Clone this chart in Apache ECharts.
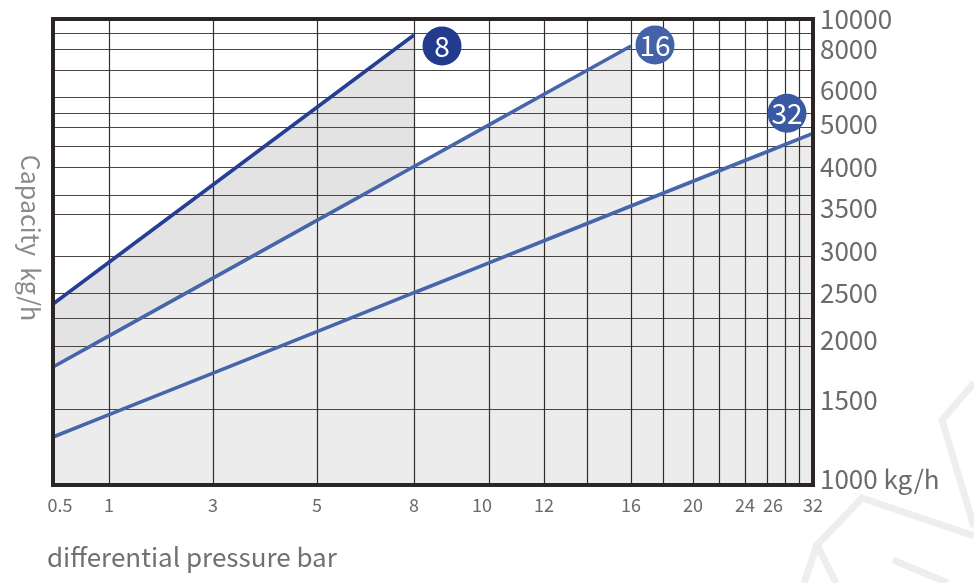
<!DOCTYPE html>
<html>
<head>
<meta charset="utf-8">
<script src="https://cdn.jsdelivr.net/npm/echarts@6/dist/echarts.min.js"></script>
<style>
html,body{margin:0;padding:0;background:#fff;}
#chart{width:974px;height:583px;}
</style>
</head>
<body>
<div id="chart"></div>
<script>
// ---- data ----
const pressureTicks = [0.5, 1, 3, 5, 8, 10, 12, 16, 20, 24, 26, 32];
const capacityTicks = [1000, 1500, 2000, 2500, 3000, 3500, 4000, 5000, 6000, 8000, 10000];
const pressureGrid = [0.5, 1, 3, 5, 8, 10, 12, 14, 16, 18, 20, 22, 24, 26, 28, 30, 32];
const capacityGrid = [1000, 1500, 2000, 2250, 2500, 3000, 3500, 3750, 4000, 4500, 5000, 5500, 6000, 7000, 8000, 9000, 10000];

const seriesNames = ['8', '16', '32'];
const pressure8 = [0.5, 1, 3, 5, 8];
const capacity8 = [2390, 2915, 3841, 5678, 8875];
const pressure16 = [0.5, 1, 3, 5, 8, 10, 12, 16];
const capacity16 = [1833, 2090, 2701, 3424, 4012, 5075, 6100, 8188];
const pressure32 = [0.5, 1, 3, 5, 8, 10, 12, 16, 20, 24, 26, 32];
const capacity32 = [1316, 1463, 1785, 2129, 2504, 2908, 3181, 3605, 3873, 4155, 4364, 4834];

// ---- the chart's irregular (hand-drawn) axis scales: gridline value -> axis position ----
const xScalePos = [0, 56, 160, 264, 361, 436, 491, 534, 578, 610, 640, 666, 692, 714, 732, 746, 760];
const yScalePos = [0, 76, 139, 167, 192, 229, 271, 290, 318, 339, 358, 372, 388, 415, 436, 452, 466];

function interp(vals, pos, v) {
  for (let i = 0; i < vals.length - 1; i++) {
    if (v <= vals[i + 1] || i === vals.length - 2) {
      return pos[i] + (v - vals[i]) / (vals[i + 1] - vals[i]) * (pos[i + 1] - pos[i]);
    }
  }
}
const xPos = v => interp(pressureGrid, xScalePos, v);
const yPos = v => interp(capacityGrid, yScalePos, v);
const toPts = (xs, ys) => xs.map((x, i) => [xPos(x), yPos(ys[i])]);

const xLabelPos = pressureTicks.map(xPos);
const yLabelPos = capacityTicks.map(yPos);
function findLabel(posArr, labels, v) {
  let best = 0, d = Infinity;
  posArr.forEach((p, i) => { const dd = Math.abs(p - v); if (dd < d) { d = dd; best = i; } });
  return labels[best];
}

const pts = [toPts(pressure8, capacity8), toPts(pressure16, capacity16), toPts(pressure32, capacity32)];
const lineColors = ['#263f95', '#4765ab', '#4765ab'];
const badgeColors = ['#223b8e', '#4462aa', '#3a59a4'];
const areaColors = ['#e3e3e3', '#ececec', '#ececec'];
const badgeOffsets = [[28, 11], [24, -1], [-26, -20]];

const FONT = '"Noto Sans CJK SC", "Noto Sans", sans-serif';

const series = [];
pts.forEach((p, i) => {
  series.push({
    type: 'line', name: seriesNames[i] + '-area', data: p, z: 1,
    symbol: 'none', silent: true,
    lineStyle: { width: 0 },
    areaStyle: { color: areaColors[i], opacity: 1 }
  });
});
pts.forEach((p, i) => {
  const last = p[p.length - 1];
  series.push({
    type: 'line', name: seriesNames[i], data: p, z: 3,
    symbol: 'none', silent: true,
    lineStyle: { width: 3.6, color: lineColors[i] },
    markPoint: {
      silent: true,
      symbol: 'circle', symbolSize: 39, symbolOffset: badgeOffsets[i],
      itemStyle: { color: badgeColors[i] },
      label: { show: true, color: '#fff', fontSize: 28, fontFamily: FONT, formatter: seriesNames[i] },
      data: [{ coord: last }]
    }
  });
});

const XF = 18;
const xc = '#6a6a6a';
const richX = {
  n: { fontSize: XF, color: xc, fontFamily: FONT },
  r: { fontSize: XF, color: xc, fontFamily: FONT, padding: [0, 0, 0, 14] },
  l: { fontSize: XF, color: xc, fontFamily: FONT, padding: [0, 14, 0, 0] },
  r2: { fontSize: XF, color: xc, fontFamily: FONT, padding: [0, 0, 0, 12] }
};
// label nudges (px up) to mimic the reference typesetting
const yNudge = { 10000: 0, 8000: 0, 6000: 7, 5000: 3, 4000: 0, 3500: 6, 3000: 5, 2500: 0, 2000: 6, 1500: 9, 1000: 6 };
const richY = {};
Object.keys(yNudge).forEach(k => {
  richY['y' + k] = { fontSize: 26, color: '#6b6b6b', fontFamily: FONT, padding: [0, 0, yNudge[k] * 2, 0] };
});

const wm = { stroke: '#eeeeee', lineWidth: 7, fill: null, lineJoin: 'miter' };

const option = {
  animation: false,
  backgroundColor: '#ffffff',
  grid: { left: 53, top: 19, width: 760, height: 466, show: true, backgroundColor: 'transparent',
          borderColor: '#2b2624', borderWidth: 4, z: 5 },
  xAxis: {
    type: 'value', min: 0, max: 760, z: 2,
    axisLine: { show: false },
    axisTick: { show: false, customValues: pressureGrid.map(xPos) },
    splitLine: { show: true, lineStyle: { color: '#332d2b', width: 1.2 } },
    axisLabel: {
      customValues: xLabelPos, margin: 11, fontSize: XF, color: xc, fontFamily: FONT,
      formatter: v => {
        const t = findLabel(xLabelPos, pressureTicks, v);
        if (t === 0.5) return '{r|0.5}';
        if (t === 10) return '{l|10}';
        if (t === 26) return '{r2|26}';
        return '{n|' + t + '}';
      },
      rich: richX
    }
  },
  yAxis: {
    type: 'value', position: 'right', min: 0, max: 466, z: 2,
    axisLine: { show: false },
    axisTick: { show: false, customValues: capacityGrid.map(yPos) },
    splitLine: { show: true, lineStyle: { color: '#4a4443', width: 1 } },
    axisLabel: {
      customValues: yLabelPos, margin: 7, fontSize: 26, color: '#6b6b6b', fontFamily: FONT,
      formatter: v => {
        const t = findLabel(yLabelPos, capacityTicks, v);
        return '{y' + t + '|' + (t === 1000 ? '1000 kg/h' : String(t)) + '}';
      },
      rich: richY
    }
  },
  graphic: [
    { type: 'polyline', silent: true, z: -10, shape: { points: [[974, 383], [942, 420], [974, 527]] }, style: wm },
    { type: 'polyline', silent: true, z: -10, shape: { points: [[974, 536], [862, 498], [817, 545], [836, 583]] }, style: wm },
    { type: 'polyline', silent: true, z: -10, shape: { points: [[817, 545], [804, 583]] }, style: wm },
    { type: 'polyline', silent: true, z: -10, shape: { points: [[893, 560], [948, 583]] }, style: wm },
    { type: 'text', silent: true, x: 30, y: 238, rotation: -Math.PI / 2,
      style: { text: 'Capacity  kg/h', fontSize: 25, fill: '#8a8a8a', fontFamily: FONT, align: 'center', verticalAlign: 'middle' } },
    { type: 'text', silent: true, x: 47, y: 557,
      style: { text: 'differential pressure bar', fontSize: 26, fill: '#707070', fontFamily: FONT, align: 'left', verticalAlign: 'middle' } }
  ],
  series: series
};

const chart = echarts.init(document.getElementById('chart'));
chart.setOption(option);
</script>
</body>
</html>
